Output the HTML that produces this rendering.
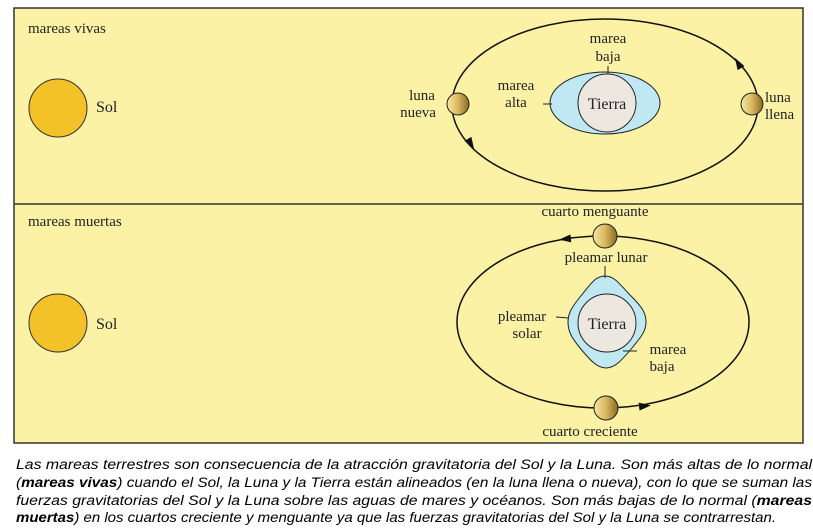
<!DOCTYPE html>
<html><head><meta charset="utf-8"><style>
body{margin:0;background:#fff;width:813px;height:525px;overflow:hidden}
text{font-family:"Liberation Serif",serif;fill:#222}
.c{font-family:"Liberation Sans",sans-serif;font-style:italic;font-size:13.5px;fill:#000}
</style></head><body>
<svg width="813" height="525" viewBox="0 0 813 525">
<defs>
<linearGradient id="m" x1="0" x2="1"><stop offset="0" stop-color="#f8e8a0"/><stop offset="0.5" stop-color="#d9b860"/><stop offset="1" stop-color="#8a6a20"/></linearGradient>
<marker id="a" markerUnits="userSpaceOnUse" markerWidth="12" markerHeight="10" refX="6" refY="5" orient="auto"><path d="M0,1 L12,5 L0,9z" fill="#111"/></marker>
</defs>
<rect x="14" y="8" width="789" height="435" fill="#fcf2a6" stroke="#333" stroke-width="1.5"/>
<line x1="14" y1="204" x2="803" y2="204" stroke="#333" stroke-width="1.5"/>
<text x="28" y="33" font-size="15">mareas vivas</text>
<text x="28" y="226" font-size="15">mareas muertas</text>
<circle cx="58" cy="108" r="29" fill="#f3c229" stroke="#333"/>
<text x="96" y="112" font-size="16">Sol</text>
<circle cx="58" cy="323" r="29" fill="#f3c229" stroke="#333"/>
<text x="96" y="329" font-size="16">Sol</text>
<!-- top -->
<ellipse cx="605" cy="105" rx="153" ry="86" fill="none" stroke="#111" stroke-width="1.5"/>
<path d="M465,134 L471,144" fill="none" marker-end="url(#a)"/>
<path d="M744,73 L738,63" fill="none" marker-end="url(#a)"/>
<circle cx="458" cy="104" r="11" fill="url(#m)" stroke="#222"/>
<circle cx="752" cy="104" r="11" fill="url(#m)" stroke="#222"/>
<ellipse cx="605" cy="103" rx="55" ry="31" fill="#bfe8f2" stroke="#222"/>
<circle cx="607" cy="103" r="29" fill="#ece8e0" stroke="#222"/>
<text x="607" y="109" font-size="16" text-anchor="middle">Tierra</text>
<text x="608" y="43" font-size="15" text-anchor="middle">marea</text>
<text x="608" y="61" font-size="15" text-anchor="middle">baja</text>
<line x1="608" y1="66" x2="608" y2="74" stroke="#222"/>
<text x="516" y="90" font-size="15" text-anchor="middle">marea</text>
<text x="516" y="107" font-size="15" text-anchor="middle">alta</text>
<line x1="543" y1="104" x2="552" y2="104" stroke="#222"/>
<text x="422" y="100" font-size="15" text-anchor="middle">luna</text>
<text x="418" y="117" font-size="15" text-anchor="middle">nueva</text>
<text x="765" y="102" font-size="15">luna</text>
<text x="765" y="119" font-size="15">llena</text>
<!-- bottom -->
<ellipse cx="603" cy="322" rx="146" ry="86" fill="none" stroke="#111" stroke-width="1.5"/>
<path d="M575,238 L565,239" fill="none" marker-end="url(#a)"/>
<path d="M635,407 L645,406" fill="none" marker-end="url(#a)"/>
<circle cx="605" cy="236" r="12" fill="url(#m)" stroke="#222"/>
<circle cx="606" cy="408" r="12" fill="url(#m)" stroke="#222"/>
<path d="M605,276 C615,276 620,285 632,297 C642,307 646,313 646,322 C646,332 640,338 632,348 C622,360 615,368 606,368 C597,368 590,360 580,348 C572,338 568,332 568,322 C568,313 572,307 580,297 C590,285 595,276 605,276Z" fill="#bfe8f2" stroke="#222"/>
<circle cx="607" cy="323" r="29" fill="#ece8e0" stroke="#222"/>
<text x="607" y="329" font-size="16" text-anchor="middle">Tierra</text>
<text x="595" y="216" font-size="15" text-anchor="middle">cuarto menguante</text>
<text x="606" y="262" font-size="15" text-anchor="middle">pleamar lunar</text>
<line x1="605" y1="266" x2="605" y2="278" stroke="#222"/>
<text x="522" y="321" font-size="15" text-anchor="middle">pleamar</text>
<text x="527" y="338" font-size="15" text-anchor="middle">solar</text>
<line x1="556" y1="317" x2="569" y2="318" stroke="#222"/>
<text x="668" y="354" font-size="15" text-anchor="middle">marea</text>
<text x="662" y="371" font-size="15" text-anchor="middle">baja</text>
<line x1="623" y1="351" x2="637" y2="351" stroke="#222"/>
<text x="590" y="436" font-size="15" text-anchor="middle">cuarto creciente</text>
<!-- caption -->
<text class="c" x="16" y="469" textLength="796" lengthAdjust="spacingAndGlyphs">Las mareas terrestres son consecuencia de la atracción gravitatoria del Sol y la Luna. Son más altas de lo normal</text>
<text class="c" x="16" y="487" textLength="796" lengthAdjust="spacingAndGlyphs">(<tspan font-weight="bold">mareas vivas</tspan>) cuando el Sol, la Luna y la Tierra están alineados (en la luna llena o nueva), con lo que se suman las</text>
<text class="c" x="16" y="505" textLength="796" lengthAdjust="spacingAndGlyphs">fuerzas gravitatorias del Sol y la Luna sobre las aguas de mares y océanos. Son más bajas de lo normal (<tspan font-weight="bold">mareas</tspan></text>
<text class="c" x="16" y="522" textLength="760" lengthAdjust="spacingAndGlyphs"><tspan font-weight="bold">muertas</tspan>) en los cuartos creciente y menguante ya que las fuerzas gravitatorias del Sol y la Luna se contrarrestan.</text>
</svg>
</body></html>
